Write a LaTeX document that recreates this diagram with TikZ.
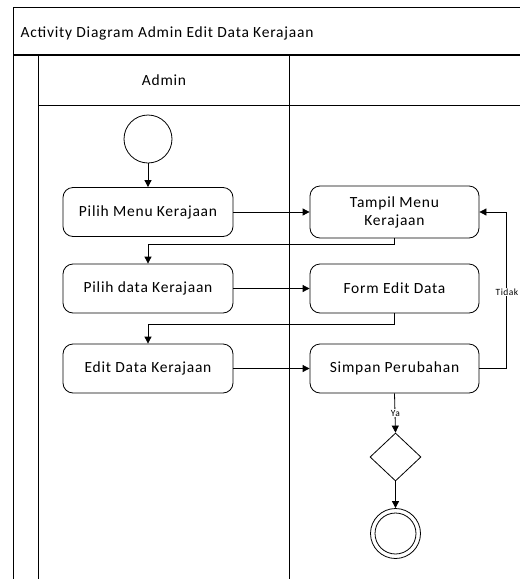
\documentclass[tikz,border=0pt]{standalone}
\usepackage{fontspec}
\setmainfont{Carlito}[LetterSpace=5]
\usetikzlibrary{arrows.meta,shapes.geometric}
\begin{document}
\begin{tikzpicture}[x=1pt,y=-1pt,
  action/.style={draw,rounded corners=10pt,minimum width=170pt,minimum height=49pt,
    align=center,font=\fontsize{15.5}{18}\selectfont,line width=0.8pt},
  flow/.style={-{Triangle[length=7pt,width=7pt]},line width=0.8pt},
  guard/.style={fill=white,inner sep=1pt,font=\fontsize{9.5}{10}\selectfont},
  frame/.style={line width=0.9pt}]
\useasboundingbox (0,0) rectangle (520,579);
\fill[white] (0,0) rectangle (520,579);

% swimlane frame
\draw[frame] (520,7) -- (13,7) -- (13,579);
\draw[line width=1.8pt] (13,55) -- (520,55);
\draw[frame] (38,55) -- (38,579);
\draw[frame] (289,55) -- (289,579);
\draw[frame] (38,105) -- (520,105);
\node[anchor=west,font=\fontsize{15.5}{18}\selectfont] (title) at (17,33) {Activity Diagram Admin Edit Data Kerajaan};
\node[font=\fontsize{15.5}{18}\selectfont] (lane) at (164,80) {Admin};

% nodes
\node[draw,circle,minimum size=48pt,inner sep=0pt,line width=0.8pt] (start) at (148,139) {};
\node[action] (pilihmenu) at (148,212) {Pilih Menu Kerajaan};
\node[action,minimum width=169pt,minimum height=52pt] (tampil) at (394.5,212) {Tampil Menu\\Kerajaan};
\node[action] (pilihdata) at (148,288.5) {Pilih data Kerajaan};
\node[action,minimum width=169pt] (form) at (394.5,288.5) {Form Edit Data};
\node[action] (edit) at (148,368.5) {Edit Data Kerajaan};
\node[action,minimum width=169pt] (simpan) at (394.5,368.5) {Simpan Perubahan};
\node[draw,diamond,minimum width=51pt,minimum height=48pt,inner sep=0pt,line width=0.8pt] (dec) at (395.5,457) {};
\node[draw,circle,minimum size=50pt,inner sep=0pt,line width=0.8pt] (end) at (395.5,533.5) {};
\node[draw,circle,minimum size=41pt,inner sep=0pt,line width=0.8pt] (endin) at (end) {};

% connectors
\draw[flow] (start) -- (pilihmenu);
\draw[flow] (pilihmenu) -- (tampil);
\draw[flow] (tampil.south) -- ++(0,6) -| (pilihdata.north);
\draw[flow] (pilihdata) -- (form);
\draw[flow] (form.south) -- ++(0,11) -| (edit.north);
\draw[flow] (edit) -- (simpan);
\draw[flow] (simpan.east) -- (506,368.5) -- (506,212) -- (tampil.east);
\node[guard] (tidak) at (507,292) {Tidak};
\draw[flow] (simpan.south) -- (dec.north);
\node[guard] (ya) at (395.5,413) {Ya};
\draw[flow] (dec.south) -- (end.north);
\end{tikzpicture}
\end{document}
